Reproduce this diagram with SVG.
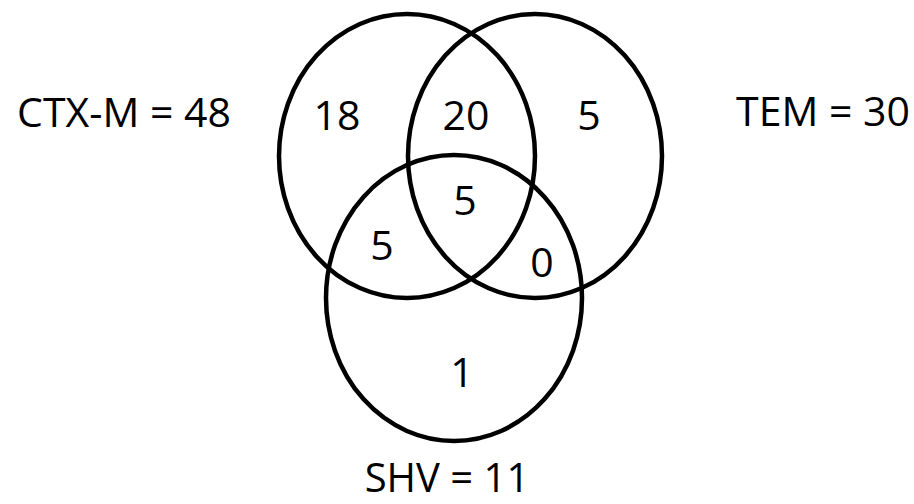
<svg xmlns="http://www.w3.org/2000/svg" width="914" height="504" viewBox="0 0 914 504">
<style>
.set{fill:none;stroke:#000;stroke-width:4.5}
text{font-family:"Open Sans","Noto Sans","Liberation Sans",sans-serif;font-size:41px;fill:#000;text-anchor:middle}
</style>
<rect width="914" height="504" fill="#fff"/>
<g id="connectors"></g>
<g id="ctxm"><ellipse class="set" cx="407" cy="156" rx="128" ry="142"/><text x="124" y="127">CTX-M = 48</text></g>
<g id="tem"><ellipse class="set" cx="535" cy="156" rx="127" ry="142"/><text x="823" y="126">TEM = 30</text></g>
<g id="shv"><ellipse class="set" cx="454" cy="298" rx="128" ry="143"/><text x="447" y="492" style="font-size:40px">SHV = 11</text></g>
<g id="counts">
<text x="337" y="130">18</text>
<text x="466" y="130">20</text>
<text x="589" y="130">5</text>
<text x="465" y="215">5</text>
<text x="382" y="260">5</text>
<text x="542" y="277">0</text>
<text x="462" y="387">1</text>
</g>
</svg>
